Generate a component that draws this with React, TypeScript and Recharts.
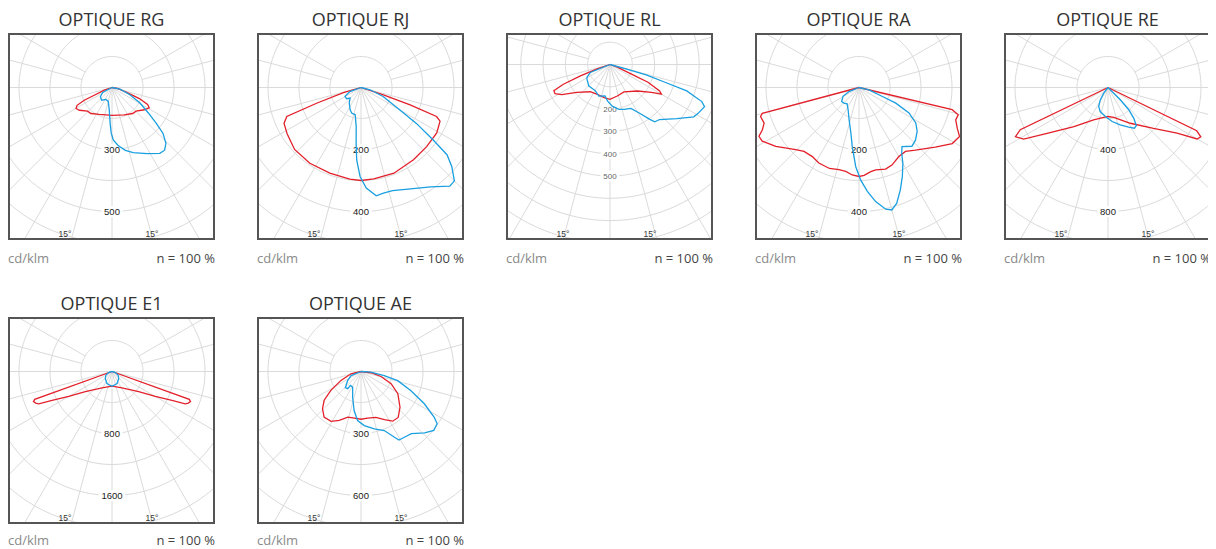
import React from 'react';
import { ScatterChart, Scatter, XAxis, YAxis } from 'recharts';

// photometric curves: [gamma (deg from nadir, + = right side), cd/klm]
type Pt = [number, number];

const rgRed: Pt[] = [[-90, 0], [-71, 33], [-66.5, 78], [-65.4, 123], [-63, 158], [-59.7, 168], [-55, 160], [-46, 137], [-39, 135], [-25, 120], [0, 112], [24, 121], [38.5, 134], [45.4, 136], [55.4, 158], [61.4, 171], [64.5, 159], [68, 119], [71.3, 67], [80, 23], [90, 0]];
const rgBlue: Pt[] = [[-90, 0], [-62, 43], [-51.5, 60], [-39, 66], [-27, 54], [-15, 58], [-7, 91], [-3, 144], [-1, 184], [1.4, 211], [6, 235], [12, 259], [18, 276], [28, 302], [36, 328], [40, 330], [44, 313], [48, 277], [51, 231], [55, 179], [61, 129], [68, 78], [78, 33], [90, 0]];

const rjRed: Pt[] = [[-90, 0], [-74, 59], [-70.5, 152], [-68.7, 257], [-65, 274], [-58, 281], [-47, 293], [-34, 295], [-20, 294], [-7, 298], [0, 300], [8, 298], [21, 296], [36, 288], [48, 285], [59, 285], [67, 277], [69, 261], [70.6, 168], [72, 76], [90, 0]];
const rjBlue: Pt[] = [[-90, 0], [-70, 38], [-61, 59], [-52, 59], [-46, 49], [-37, 63], [-26, 80], [-20, 88], [-12, 90], [-7, 127], [-5, 180], [-3.4, 234], [-0.6, 287], [3, 325], [8, 353], [12, 348], [17, 348], [26, 364], [35, 391], [42, 428], [45, 426], [49, 388], [52, 352], [54, 288], [57, 214], [60, 145], [68, 77], [76, 30], [90, 0]];

const rlRed: Pt[] = [[-90, 0], [-71, 61], [-69, 142], [-67, 227], [-65, 278], [-62, 279], [-58, 255], [-50, 195], [-36, 151], [-23, 145], [-10, 151], [0, 156], [13, 145], [27, 138], [46, 171], [56, 224], [60, 266], [62, 252], [65, 188], [66, 103], [70, 35], [90, 0]];
const rlBlue: Pt[] = [[-90, 0], [-68, 95], [-61, 118], [-58, 122], [-45, 135], [-29, 135], [-19.5, 150], [-9, 143], [-4, 164], [3, 187], [11.5, 205], [17.5, 211], [25.5, 218], [31, 254], [36, 304], [38, 326], [42, 332], [51, 385], [58, 443], [61, 452], [66, 464], [68, 444], [71, 364], [72, 265], [74, 169], [75, 74], [90, 0]];

const raRed: Pt[] = [[-90, 0], [-75, 323], [-73.6, 331], [-69.4, 327], [-66.4, 340], [-64, 359], [-61, 357], [-54.7, 329], [-45.5, 286], [-40.7, 272], [-34, 269], [-28, 276], [-20, 278], [-13.7, 273], [-9, 274], [-4.4, 283], [0, 287], [3.3, 284], [8, 274], [11.5, 271], [18, 277], [23, 272], [30, 257], [36, 255], [42, 272], [52, 312], [59, 351], [64, 361], [67.5, 343], [71.5, 329], [74.6, 332], [76.6, 309], [90, 0]];
const raBlue: Pt[] = [[-90, 0], [-68, 35], [-61, 59], [-51, 72], [-44, 70], [-36, 65], [-26, 80], [-17, 109], [-10, 150], [-6.5, 192], [-2.4, 255], [1, 298], [4.6, 336], [8.3, 372], [12.4, 402], [15, 409], [18, 393], [22, 356], [26, 319], [30, 283], [33, 253], [36, 236], [42, 255], [47, 249], [53, 235], [58, 216], [63, 181], [67, 129], [69, 81], [77, 33], [90, 0]];

const reRed: Pt[] = [[-90, 0], [-64.3, 628], [-62, 676], [-58.5, 638], [-53, 492], [-41, 335], [-24, 228], [-8, 194], [0, 187], [11, 197], [32, 272], [48, 395], [56.5, 534], [60, 664], [62, 678], [64, 637], [90, 0]];
const reBlue: Pt[] = [[-40, 0], [-37, 46], [-32, 94], [-26, 137], [-18, 163], [-5, 188], [7, 221], [18, 254], [27.5, 289], [33, 313], [36.5, 307], [40, 258], [43, 196], [45, 112], [47, 0]];

const e1Red: Pt[] = [[-90, 0], [-70.2, 1060], [-69, 1085], [-67.5, 1065], [-66.2, 1033], [-64.2, 859], [-60, 645], [-52.8, 432], [-31.5, 247], [0, 190], [31.5, 247], [52.8, 432], [60, 645], [64.2, 859], [66.2, 1033], [67.5, 1065], [69, 1085], [70.2, 1060], [90, 0]];
const e1Blue: Pt[] = [[-90, 0], [-75, 40], [-60, 90], [-44, 125], [-23, 168], [0, 190], [23, 168], [44, 125], [60, 90], [75, 40], [90, 0]];

const aeRed: Pt[] = [[-90, 0], [-77, 50], [-66, 106], [-58, 172], [-52, 226], [-46, 259], [-39, 284], [-31, 281], [-24, 259], [-16, 230], [-8, 228], [0, 231], [8, 228], [18, 233], [26, 259], [32.5, 285], [39, 286], [47.5, 256], [59, 208], [68, 157], [76, 100], [83, 49], [90, 0]];
const aeBlue: Pt[] = [[-90, 0], [-68, 52], [-56, 78], [-44, 109], [-37.5, 105], [-37.4, 85], [-28, 86], [-18, 131], [-10, 192], [-4, 238], [3.5, 262], [13, 285], [21.5, 307], [27, 357], [29, 379], [33, 381], [39, 387], [46, 428], [51, 453], [55.5, 447], [58, 418], [63, 344], [69, 259], [76, 183], [80, 114], [86, 48], [90, 0]];

// ring labels: [ring number, text]
const rgLabels: [number, string][] = [[2, '300'], [4, '500']];
const rjLabels: [number, string][] = [[2, '200'], [4, '400']];
const rlLabels: [number, string][] = [[2, '200'], [3, '300'], [4, '400'], [5, '500']];
const raLabels: [number, string][] = [[2, '200'], [4, '400']];
const reLabels: [number, string][] = [[2, '400'], [4, '800']];
const e1Labels: [number, string][] = [[2, '800'], [4, '1600']];
const aeLabels: [number, string][] = [[2, '300'], [4, '600']];

interface Panel {
  title: string;
  red: Pt[];
  blue: Pt[];
  step: number; // cd/klm per ring
  ringPx: number;
  cy: number;
  labels: [number, string][];
  small?: boolean;
}

const panels: Panel[] = [
  { title: 'OPTIQUE RG', red: rgRed, blue: rgBlue, step: 125, ringPx: 31, cy: 52.5, labels: rgLabels },
  { title: 'OPTIQUE RJ', red: rjRed, blue: rjBlue, step: 100, ringPx: 31, cy: 52.5, labels: rjLabels },
  { title: 'OPTIQUE RL', red: rlRed, blue: rlBlue, step: 100, ringPx: 22.3, cy: 29.5, labels: rlLabels, small: true },
  { title: 'OPTIQUE RA', red: raRed, blue: raBlue, step: 100, ringPx: 31, cy: 52.5, labels: raLabels },
  { title: 'OPTIQUE RE', red: reRed, blue: reBlue, step: 200, ringPx: 31, cy: 52.5, labels: reLabels },
  { title: 'OPTIQUE E1', red: e1Red, blue: e1Blue, step: 400, ringPx: 31, cy: 52.5, labels: e1Labels },
  { title: 'OPTIQUE AE', red: aeRed, blue: aeBlue, step: 150, ringPx: 31, cy: 52.5, labels: aeLabels },
];

const INNER = 203;
const CX = 102;
const RAD = Math.PI / 180;
const GRID = '#dadada';
const RED = '#e3202a';
const BLUE = '#1a9fe0';

const toXY = (pts: Pt[]) =>
  pts.map(([g, v]) => ({ x: v * Math.sin(g * RAD), y: -v * Math.cos(g * RAD) }));

const noDot = () => <g />;

function PolarPlot({ p }: { p: Panel }) {
  const k = p.step / p.ringPx;
  const outer = 300 * k;
  const nRings = Math.ceil(230 / p.ringPx);

  const rings = Array.from({ length: nRings }, (_, i) => {
    const r = (i + 1) * p.step;
    return Array.from({ length: 145 }, (_, j) => ({ x: r * Math.cos(j * 2.5 * RAD), y: r * Math.sin(j * 2.5 * RAD) }));
  });

  const spokes: Pt[][] = [];
  for (let g = -90; g <= 90; g += 15) spokes.push([[g, 0], [g, outer]]);
  for (const g of [-120, -105, 105, 120]) spokes.push([[g, p.step], [g, outer]]);

  const labelData = p.labels.map(([ring, text]) => ({ x: 0, y: -ring * p.step, text }));
  const fs = p.small ? 8 : 9.5;

  const labelShape = (props: any) => {
    const text = props.payload.text as string;
    const w = text.length * (p.small ? 4.6 : 5.4) + 5;
    return (
      <g>
        <rect x={props.cx - w / 2} y={props.cy - 5.5} width={w} height={11} fill="#fff" />
        <text
          x={props.cx}
          y={props.cy + fs * 0.36}
          textAnchor="middle"
          fontSize={fs}
          fontFamily="'Liberation Sans', Arial, sans-serif"
          fill={p.small ? '#666' : '#1a1a1a'}
        >
          {text}
        </text>
      </g>
    );
  };

  return (
    <ScatterChart width={INNER} height={INNER} margin={{ top: 0, right: 0, bottom: 0, left: 0 }}>
      <XAxis type="number" dataKey="x" domain={[-CX * k, (INNER - CX) * k]} allowDataOverflow hide />
      <YAxis type="number" dataKey="y" domain={[-(INNER - p.cy) * k, p.cy * k]} allowDataOverflow hide />
      {rings.map((ring, i) => (
        <Scatter key={'r' + i} data={ring} fill={GRID} line={{ stroke: GRID, strokeWidth: 1 }} shape={noDot} isAnimationActive={false} />
      ))}
      {spokes.map((s, i) => (
        <Scatter key={'s' + i} data={toXY(s)} fill={GRID} line={{ stroke: GRID, strokeWidth: 1 }} shape={noDot} isAnimationActive={false} />
      ))}
      <Scatter data={labelData} fill="#fff" shape={labelShape} isAnimationActive={false} />
      <Scatter data={toXY(p.red)} fill={RED} line={{ stroke: RED, strokeWidth: 1.3 }} shape={noDot} isAnimationActive={false} />
      <Scatter data={toXY(p.blue)} fill={BLUE} line={{ stroke: BLUE, strokeWidth: 1.3 }} shape={noDot} isAnimationActive={false} />
    </ScatterChart>
  );
}

const degStyle: React.CSSProperties = {
  position: 'absolute',
  top: 193.5,
  width: 20,
  textAlign: 'center',
  fontSize: 8.5,
  lineHeight: '10px',
  fontFamily: "'Liberation Sans', Arial, sans-serif",
  color: '#333',
};

export default function App() {
  return (
    <div style={{ position: 'relative', width: 1200, height: 541, fontFamily: "'Open Sans', sans-serif" }}>
      {panels.map((p, i) => {
        const col = i % 5;
        const row = Math.floor(i / 5);
        const left = col * 249;
        const top = row === 0 ? 25 : 309;
        const foot = row === 0 ? 10.5 : 9.3;
        return (
          <React.Fragment key={p.title}>
            <div style={{ position: 'absolute', left, top: top - 24, width: 207, textAlign: 'center', fontSize: 18, lineHeight: '20px', color: '#333' }}>
              {p.title}
            </div>
            <div style={{ position: 'absolute', left, top, width: INNER, height: INNER, border: '2px solid #555', overflow: 'hidden', background: '#fff' }}>
              <PolarPlot p={p} />
              <div style={{ ...degStyle, left: 45 }}>15°</div>
              <div style={{ ...degStyle, left: 132 }}>15°</div>
            </div>
            <div style={{ position: 'absolute', left, top: top + 207 + foot, fontSize: 13, lineHeight: '14px', color: '#8a8a8a' }}>cd/klm</div>
            <div style={{ position: 'absolute', left, top: top + 207 + foot, width: 207, textAlign: 'right', fontSize: 13, lineHeight: '14px', color: '#444' }}>n = 100 %</div>
          </React.Fragment>
        );
      })}
    </div>
  );
}
